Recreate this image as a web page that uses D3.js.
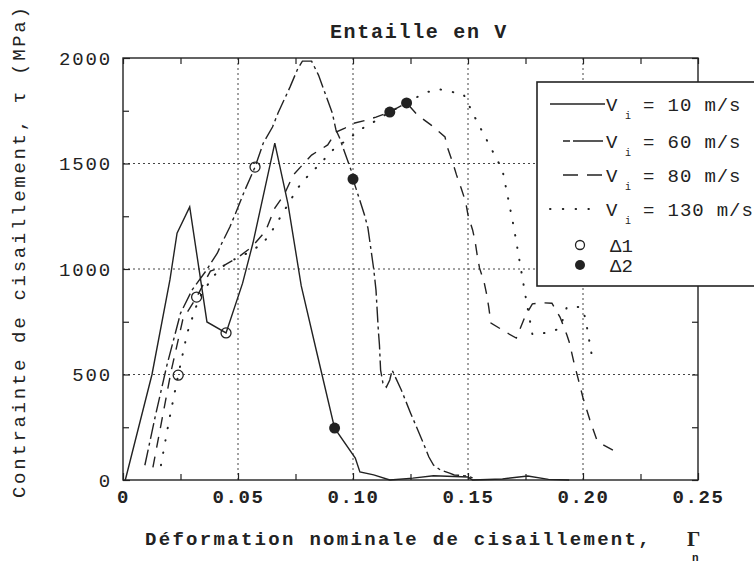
<!DOCTYPE html>
<html><head><meta charset="utf-8">
<script src="https://cdn.jsdelivr.net/npm/d3@7"></script>
<style>
body{margin:0;background:#fff;}
svg{display:block;}
text{font-family:"Liberation Mono","Courier New",monospace;fill:#222;}
</style></head><body>
<svg id="chart" width="754" height="567"></svg>
<script>
// ---- data ----
const xTicks = [0, 0.05, 0.10, 0.15, 0.20, 0.25];
const xTickLabels = ["0", "0.05", "0.10", "0.15", "0.20", "0.25"];
const yTicks = [0, 500, 1000, 1500, 2000];
const yTickLabels = ["0", "500", "1000", "1500", "2000"];
const xMinor = [0.025, 0.075, 0.125, 0.175, 0.225];
const yMinor = [250, 750, 1250, 1750];
const seriesLabels = ["= 10 m/s", "= 60 m/s", "= 80 m/s", "= 130 m/s"];

// Vi = 10 m/s (solid)
const v10 = [[0.001,0],[0.0126,500],[0.0204,948],[0.0235,1170],[0.029,1294],[0.0365,749],[0.0448,697],
  [0.052,933],[0.0565,1123],[0.066,1597],[0.0717,1310],[0.0775,920],[0.084,616],[0.092,246],
  [0.101,104],[0.103,38],[0.109,24],[0.116,0],[0.126,9],[0.135,20],[0.15,14],[0.152,0],
  [0.165,5],[0.176,19],[0.185,3],[0.194,0]];
// Vi = 60 m/s (dash-dot)
const v60 = [[0.0095,70],[0.014,300],[0.019,540],[0.025,790],[0.03,900],[0.036,990],[0.041,1075],
  [0.043,1123],[0.0465,1200],[0.049,1265],[0.053,1374],[0.0574,1483],[0.061,1597],[0.065,1673],
  [0.0674,1739],[0.0726,1862],[0.076,1950],[0.078,1985],[0.082,1985],[0.085,1919],[0.091,1739],
  [0.0926,1659],[0.094,1626],[0.0996,1455],[0.1,1426],[0.105,1256],[0.1065,1194],[0.109,1000],
  [0.11,900],[0.111,711],[0.1115,640],[0.112,521],[0.113,460],[0.1145,440],[0.116,474],[0.117,521],
  [0.121,427],[0.125,318],[0.13,190],[0.133,109],[0.135,71],[0.138,47],[0.142,33],[0.144,24],
  [0.15,19],[0.152,10]];
// Vi = 80 m/s (dashed)
const v80 = [[0.013,60],[0.017,290],[0.021,520],[0.026,760],[0.032,867],[0.038,990],[0.042,1005],
  [0.05,1055],[0.056,1104],[0.062,1180],[0.066,1289],[0.07,1351],[0.074,1445],[0.078,1493],
  [0.082,1540],[0.089,1588],[0.0926,1649],[0.0965,1668],[0.1,1690],[0.106,1706],[0.11,1720],
  [0.116,1744],[0.1233,1787],[0.128,1730],[0.134,1682],[0.14,1626],[0.141,1578],[0.1435,1500],
  [0.145,1446],[0.147,1384],[0.149,1317],[0.15,1256],[0.152,1185],[0.153,1137],[0.154,1066],
  [0.155,1005],[0.157,938],[0.158,886],[0.159,820],[0.16,744],[0.167,697],[0.171,673],
  [0.175,780],[0.178,835],[0.182,840],[0.1865,838],[0.19,772],[0.193,687],[0.194,654],
  [0.196,560],[0.2,390],[0.203,284],[0.206,190],[0.209,165],[0.213,142]];
// Vi = 130 m/s (dotted)
const v130 = [[0.0165,70],[0.02,280],[0.024,497],[0.028,700],[0.033,860],[0.039,962],[0.045,1028],
  [0.055,1080],[0.061,1123],[0.065,1185],[0.069,1256],[0.076,1384],[0.08,1436],[0.086,1502],
  [0.092,1573],[0.0974,1611],[0.103,1660],[0.109,1697],[0.116,1744],[0.1233,1787],[0.131,1834],
  [0.137,1853],[0.143,1839],[0.148,1829],[0.154,1697],[0.16,1573],[0.165,1469],[0.17,1194],
  [0.175,872],[0.178,690],[0.186,700],[0.19,720],[0.193,820],[0.199,820],[0.201,770],[0.204,580]];
// markers
const delta1 = [[0.0448,697],[0.0574,1483],[0.032,867],[0.024,497]];
const delta2 = [[0.092,246],[0.1,1426],[0.116,1744],[0.1233,1787]];

const ink = "#222";
const series = [
  {data: v10,  dash: null,          width: 1.4, cap: "butt"},
  {data: v60,  dash: "16,4,3,4",    width: 1.4, cap: "butt"},
  {data: v80,  dash: "11,9",        width: 1.4, cap: "butt"},
  {data: v130, dash: "0.5,12",      width: 2.0, cap: "round"}
];

const svg = d3.select("#chart");
const x = d3.scaleLinear().domain([0, 0.25]).range([123, 698]);
const y = d3.scaleLinear().domain([0, 2000]).range([480, 58]);

// grid
const grid = svg.append("g").attr("stroke", "#444").attr("stroke-width", 1).attr("stroke-dasharray", "2,3");
grid.selectAll(".gx").data(xTicks.slice(1, -1)).join("line")
  .attr("x1", d => x(d)).attr("x2", d => x(d)).attr("y1", y(0)).attr("y2", y(2000));
grid.selectAll(".gy").data(yTicks.slice(1, -1)).join("line")
  .attr("x1", x(0)).attr("x2", x(0.25)).attr("y1", d => y(d)).attr("y2", d => y(d));

// series lines
const line = d3.line().x(d => x(d[0])).y(d => y(d[1]));
svg.append("g").selectAll("path").data(series).join("path")
  .attr("d", d => line(d.data)).attr("fill", "none").attr("stroke", ink)
  .attr("stroke-width", d => d.width).attr("stroke-linecap", d => d.cap)
  .attr("stroke-dasharray", d => d.dash);

// markers
svg.append("g").selectAll("circle").data(delta1).join("circle")
  .attr("cx", d => x(d[0])).attr("cy", d => y(d[1])).attr("r", 5)
  .attr("fill", "none").attr("stroke", ink).attr("stroke-width", 1.3);
svg.append("g").selectAll("circle").data(delta2).join("circle")
  .attr("cx", d => x(d[0])).attr("cy", d => y(d[1])).attr("r", 5.5).attr("fill", ink);

// axes
function styleAxis(g) {
  g.select(".domain").remove();
  g.selectAll(".tick line").attr("stroke", ink).attr("stroke-width", 1.2);
}
svg.append("g").attr("transform", `translate(0,${y(0)})`)
  .call(d3.axisBottom(x).tickValues(xTicks).tickFormat((d, i) => xTickLabels[i])
    .tickSizeInner(-7).tickSizeOuter(0).tickPadding(9.5))
  .call(styleAxis)
  .call(g => g.selectAll("text").attr("font-size", 19).attr("font-weight", "bold")
    .attr("letter-spacing", 1.6).attr("fill", ink).style("font-family", '"Liberation Mono",monospace'));
svg.append("g").attr("transform", `translate(0,${y(0)})`)
  .call(d3.axisBottom(x).tickValues(xMinor).tickFormat("").tickSizeInner(-6).tickSizeOuter(0)).call(styleAxis);
svg.append("g").attr("transform", `translate(0,${y(2000)})`)
  .call(d3.axisTop(x).tickValues(xTicks.concat(xMinor)).tickFormat("").tickSizeInner(-6).tickSizeOuter(0)).call(styleAxis);
svg.append("g").attr("transform", `translate(${x(0)},0)`)
  .call(d3.axisLeft(y).tickValues(yTicks).tickFormat((d, i) => yTickLabels[i])
    .tickSizeInner(-7).tickSizeOuter(0).tickPadding(11))
  .call(styleAxis)
  .call(g => g.selectAll("text").attr("font-size", 19).attr("letter-spacing", 1.85)
    .attr("fill", ink).style("font-family", '"Liberation Mono",monospace'));
svg.append("g").attr("transform", `translate(${x(0)},0)`)
  .call(d3.axisLeft(y).tickValues(yMinor).tickFormat("").tickSizeInner(-6).tickSizeOuter(0)).call(styleAxis);
svg.append("g").attr("transform", `translate(${x(0.25)},0)`)
  .call(d3.axisRight(y).tickValues(yTicks.concat(yMinor)).tickFormat("").tickSizeInner(-6).tickSizeOuter(0)).call(styleAxis);

// frame
svg.append("rect").attr("x", x(0)).attr("y", y(2000))
  .attr("width", x(0.25) - x(0)).attr("height", y(0) - y(2000))
  .attr("fill", "none").attr("stroke", ink).attr("stroke-width", 1.4);

// title
svg.append("text").attr("x", 419).attr("y", 38).attr("text-anchor", "middle")
  .attr("font-size", 20).attr("font-weight", "bold").attr("letter-spacing", 1.7)
  .text("Entaille en V");

// x label
svg.append("text").attr("x", 145).attr("y", 545).attr("font-size", 19).attr("font-weight", "bold")
  .attr("letter-spacing", 2.3).text("Déformation nominale de cisaillement,");
svg.append("text").attr("x", 687).attr("y", 546).attr("font-size", 21).attr("font-weight", "bold")
  .style("font-family", '"Liberation Serif",serif').text("Γ");
svg.append("text").attr("x", 692).attr("y", 561).attr("font-size", 11).attr("font-weight", "bold").text("n");

// y label
svg.append("text").attr("transform", "translate(25,498) rotate(-90)")
  .attr("font-size", 19).attr("letter-spacing", 2.7)
  .text("Contrainte de cisaillement, τ (MPa)");

// legend
const lg = svg.append("g");
lg.append("rect").attr("x", 537).attr("y", 82).attr("width", 230).attr("height", 204)
  .attr("fill", "#fff").attr("stroke", ink).attr("stroke-width", 1.6);
const rowY = [111, 148, 182, 216];
const sample = [
  {x1: 550, x2: 605, dash: null, w: 1.4, cap: "butt"},
  {x1: 563, x2: 603, dash: "7,3,30", w: 1.4, cap: "butt"},
  {x1: 563, x2: 603, dash: "15,9", w: 1.4, cap: "butt"},
  {x1: 550, x2: 601, dash: "0.5,12.3", w: 2.0, cap: "round"}
];
seriesLabels.forEach((lab, i) => {
  const by = rowY[i];
  lg.append("line").attr("x1", sample[i].x1).attr("x2", sample[i].x2).attr("y1", by - 7).attr("y2", by - 7)
    .attr("stroke", ink).attr("stroke-width", sample[i].w).attr("stroke-linecap", sample[i].cap)
    .attr("stroke-dasharray", sample[i].dash);
  lg.append("text").attr("x", 606).attr("y", by).attr("font-size", 19).text("V");
  lg.append("text").attr("x", 625).attr("y", by + 8).attr("font-size", 10).text("i");
  lg.append("text").attr("x", 643).attr("y", by).attr("font-size", 19).attr("letter-spacing", 0.9).text(lab);
});
lg.append("circle").attr("cx", 580).attr("cy", 245).attr("r", 4.5).attr("fill", "none")
  .attr("stroke", ink).attr("stroke-width", 1.3);
lg.append("circle").attr("cx", 580).attr("cy", 265).attr("r", 5).attr("fill", ink);
lg.append("text").attr("x", 610).attr("y", 252).attr("font-size", 19).text("Δ1");
lg.append("text").attr("x", 610).attr("y", 272).attr("font-size", 19).text("Δ2");
</script>
</body></html>
